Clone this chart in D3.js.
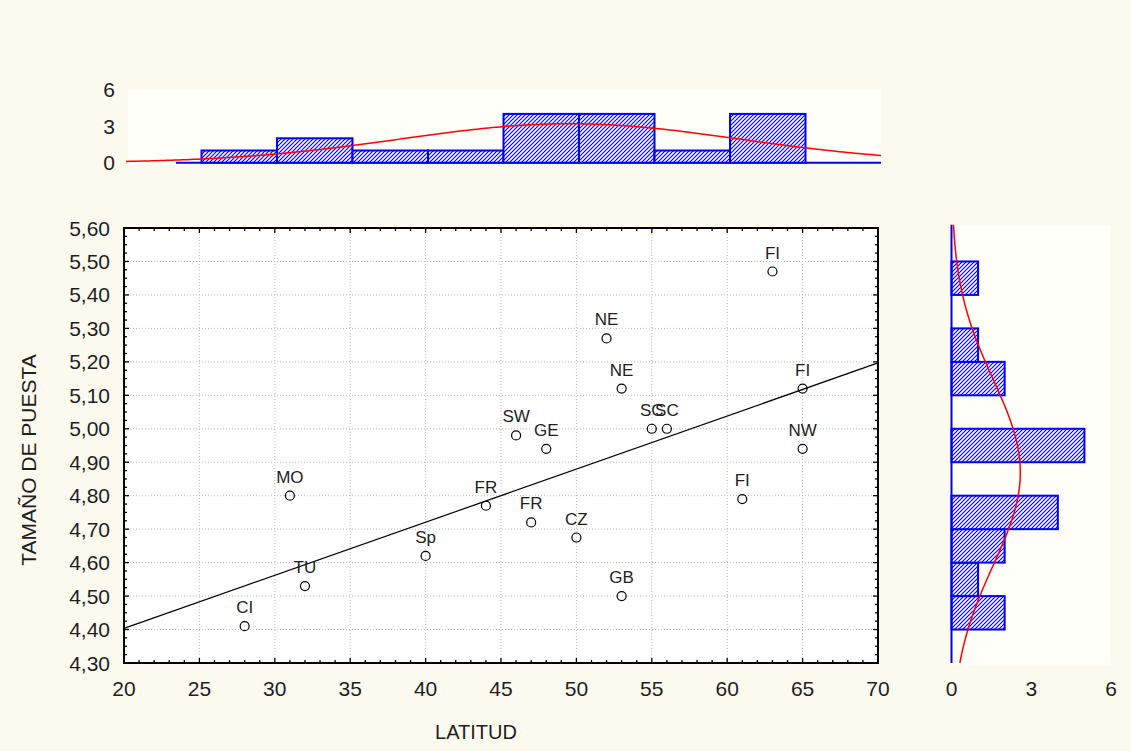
<!DOCTYPE html>
<html>
<head>
<meta charset="utf-8">
<script src="https://cdn.jsdelivr.net/npm/d3@7"></script>
<style>
  html, body { margin: 0; padding: 0; background: #fcfaef; }
  svg { display: block; }
  text { font-family: "Liberation Sans", Arial, sans-serif; fill: #1e1e1e; }
</style>
</head>
<body>
<script>
// Populations: latitude vs. clutch size
const labels = ["CI", "MO", "TU", "Sp", "FR", "FR", "CZ", "GB", "SW", "GE",
                "NE", "NE", "SC", "SC", "FI", "FI", "NW", "FI"];
const latitude = [28, 31, 32, 40, 44, 47, 50, 53, 46, 48,
                  52, 53, 55, 56, 63, 65, 65, 61];
const clutchSize = [4.41, 4.80, 4.53, 4.62, 4.77, 4.72, 4.675, 4.50, 4.98, 4.94,
                    5.27, 5.12, 5.00, 5.00, 5.47, 5.12, 4.94, 4.79];

const xTicks = [20, 25, 30, 35, 40, 45, 50, 55, 60, 65, 70];
const yTicks = [4.3, 4.4, 4.5, 4.6, 4.7, 4.8, 4.9, 5.0, 5.1, 5.2, 5.3, 5.4, 5.5, 5.6];
const countTicks = [0, 3, 6];
const xBinEdges = [20, 25, 30, 35, 40, 45, 50, 55, 60, 65, 70];
const yBinEdges = [4.3, 4.4, 4.5, 4.6, 4.7, 4.8, 4.9, 5.0, 5.1, 5.2, 5.3, 5.4, 5.5, 5.6];

const W = 1131, H = 751;
const svg = d3.select("body").append("svg").attr("width", W).attr("height", H);

const defs = svg.append("defs");
const pat = defs.append("pattern").attr("id", "hatch")
  .attr("patternUnits", "userSpaceOnUse").attr("width", 4).attr("height", 4);
pat.append("rect").attr("width", 4).attr("height", 4).attr("fill", "#ffffff");
pat.append("path").attr("d", "M-1,1 l2,-2 M0,4 l4,-4 M3,5 l2,-2")
  .attr("stroke", "#0000ff").attr("stroke-width", 1.15);

svg.append("rect").attr("width", W).attr("height", H).attr("fill", "#fcfaef");

// Scales
const x = d3.scaleLinear().domain([20, 70]).range([124, 878]);
const y = d3.scaleLinear().domain([4.3, 5.6]).range([663, 228]);
const hx = d3.scaleLinear().domain([20, 70]).range([126, 881]);
const hy = d3.scaleLinear().domain([0, 6]).range([162.7, 89.5]);
const rx = d3.scaleLinear().domain([0, 6]).range([951.5, 1111]);
const ry = d3.scaleLinear().domain([4.3, 5.61]).range([663, 224.7]);

// Helpers
const mean = arr => d3.mean(arr);
const sd = arr => d3.deviation(arr);
function counts(values, edges) {
  // bins closed on the upper edge
  const c = new Array(edges.length - 1).fill(0);
  values.forEach(v => {
    for (let i = 0; i < edges.length - 1; i++) {
      if (v > edges[i] + 1e-9 && v <= edges[i + 1] + 1e-9) { c[i]++; break; }
    }
  });
  return c.map((n, i) => ({ x0: edges[i], x1: edges[i + 1], n }));
}
const n = latitude.length;

// ---------- Top histogram (latitude) ----------
svg.append("rect").attr("x", 128).attr("y", 90).attr("width", 753).attr("height", 75)
  .attr("fill", "#fffef9");

const topG = svg.append("g");
topG.append("line")
  .attr("x1", hx(23.3)).attr("x2", hx(70))
  .attr("y1", hy(0)).attr("y2", hy(0))
  .attr("stroke", "#0000ff").attr("stroke-width", 2);

topG.selectAll("rect.bar")
  .data(counts(latitude, xBinEdges).filter(d => d.n > 0))
  .join("rect").attr("class", "bar")
  .attr("x", d => hx(d.x0)).attr("width", d => hx(d.x1) - hx(d.x0))
  .attr("y", d => hy(d.n)).attr("height", d => hy(0) - hy(d.n))
  .attr("fill", "url(#hatch)").attr("stroke", "#0000ff").attr("stroke-width", 2);

const mx = mean(latitude), sx = sd(latitude);
const xCurve = d3.range(20, 70.01, 0.25).map(v =>
  [v, n * 5 / (sx * Math.sqrt(2 * Math.PI)) * Math.exp(-0.5 * ((v - mx) / sx) ** 2)]);
topG.append("path")
  .attr("d", d3.line().x(d => hx(d[0])).y(d => hy(d[1]))(xCurve))
  .attr("fill", "none").attr("stroke", "#ff0000").attr("stroke-width", 1.5);

topG.selectAll("text.tick")
  .data(countTicks).join("text").attr("class", "tick")
  .attr("x", 115).attr("y", d => hy(d))
  .attr("text-anchor", "end").attr("dominant-baseline", "central")
  .style("font-size", "21px").text(d => d);

// ---------- Right histogram (clutch size) ----------
svg.append("rect").attr("x", 952).attr("y", 225).attr("width", 158).attr("height", 440)
  .attr("fill", "#fffef9");

const rightG = svg.append("g");
rightG.selectAll("rect.bar")
  .data(counts(clutchSize, yBinEdges).filter(d => d.n > 0))
  .join("rect").attr("class", "bar")
  .attr("x", rx(0)).attr("width", d => rx(d.n) - rx(0))
  .attr("y", d => y(d.x1)).attr("height", d => y(d.x0) - y(d.x1))
  .attr("fill", "url(#hatch)").attr("stroke", "#0000ff").attr("stroke-width", 2);

rightG.append("line")
  .attr("x1", rx(0)).attr("x2", rx(0))
  .attr("y1", ry(5.61)).attr("y2", ry(4.3))
  .attr("stroke", "#0000ff").attr("stroke-width", 2);

const my = mean(clutchSize), sy = sd(clutchSize);
const yCurve = d3.range(4.3, 5.6101, 0.005).map(v =>
  [v, n * 0.1 / (sy * Math.sqrt(2 * Math.PI)) * Math.exp(-0.5 * ((v - my) / sy) ** 2)]);
rightG.append("path")
  .attr("d", d3.line().x(d => rx(d[1])).y(d => ry(d[0]))(yCurve))
  .attr("fill", "none").attr("stroke", "#ff0000").attr("stroke-width", 1.5);

rightG.selectAll("text.tick")
  .data(countTicks).join("text").attr("class", "tick")
  .attr("x", d => rx(d)).attr("y", 688)
  .attr("text-anchor", "middle").attr("dominant-baseline", "central")
  .style("font-size", "21px").text(d => d);

// ---------- Scatter plot ----------
const plot = svg.append("g");
plot.append("rect")
  .attr("x", x(20)).attr("y", y(5.6))
  .attr("width", x(70) - x(20)).attr("height", y(4.3) - y(5.6))
  .attr("fill", "#ffffff");

// dotted grid
plot.selectAll("line.gx").data(xTicks.slice(1, -1)).join("line").attr("class", "gx")
  .attr("x1", d => x(d)).attr("x2", d => x(d)).attr("y1", y(5.6)).attr("y2", y(4.3))
  .attr("stroke", "#bdbdbd").attr("stroke-dasharray", "1,2");
plot.selectAll("line.gy").data(yTicks.slice(1, -1)).join("line").attr("class", "gy")
  .attr("y1", d => y(d)).attr("y2", d => y(d)).attr("x1", x(20)).attr("x2", x(70))
  .attr("stroke", "#bdbdbd").attr("stroke-dasharray", "1,2");

// inward ticks on all four sides
const xMinor = d3.range(21, 70, 1);
const yMinor = d3.range(4.3, 5.6, 0.025).slice(1);
const tickG = plot.append("g").attr("stroke", "#000").attr("stroke-width", 1.3);
xMinor.forEach(v => {
  const len = v % 5 === 0 ? 5 : 3;
  tickG.append("line").attr("x1", x(v)).attr("x2", x(v)).attr("y1", y(4.3)).attr("y2", y(4.3) - len);
  tickG.append("line").attr("x1", x(v)).attr("x2", x(v)).attr("y1", y(5.6)).attr("y2", y(5.6) + len);
});
yMinor.forEach((v, i) => {
  const len = (i + 1) % 4 === 0 ? 5 : 3;
  tickG.append("line").attr("y1", y(v)).attr("y2", y(v)).attr("x1", x(20)).attr("x2", x(20) + len);
  tickG.append("line").attr("y1", y(v)).attr("y2", y(v)).attr("x1", x(70)).attr("x2", x(70) - len);
});

// regression line (least squares)
const slope = d3.sum(latitude, (v, i) => (v - mx) * (clutchSize[i] - my)) /
              d3.sum(latitude, v => (v - mx) ** 2);
const icpt = my - slope * mx;
plot.append("line")
  .attr("x1", x(20)).attr("y1", y(icpt + slope * 20))
  .attr("x2", x(70)).attr("y2", y(icpt + slope * 70))
  .attr("stroke", "#000").attr("stroke-width", 1.2);

// frame
plot.append("rect")
  .attr("x", x(20)).attr("y", y(5.6))
  .attr("width", x(70) - x(20)).attr("height", y(4.3) - y(5.6))
  .attr("fill", "none").attr("stroke", "#000").attr("stroke-width", 2);

// points + labels
const pts = latitude.map((v, i) => ({ x: v, y: clutchSize[i], label: labels[i] }));
plot.selectAll("circle.pt").data(pts).join("circle").attr("class", "pt")
  .attr("cx", d => x(d.x)).attr("cy", d => y(d.y)).attr("r", 4.5)
  .attr("fill", "none").attr("stroke", "#000").attr("stroke-width", 1.2);
plot.selectAll("text.lbl").data(pts).join("text").attr("class", "lbl")
  .attr("x", d => x(d.x)).attr("y", d => y(d.y) - 13)
  .attr("text-anchor", "middle").style("font-size", "17px").text(d => d.label);

// axis labels
const fmt = d3.format(".2f");
svg.selectAll("text.yt").data(yTicks).join("text").attr("class", "yt")
  .attr("x", 110).attr("y", d => y(d)).attr("text-anchor", "end")
  .attr("dominant-baseline", "central").style("font-size", "21px")
  .text(d => fmt(d).replace(".", ","));
svg.selectAll("text.xt").data(xTicks).join("text").attr("class", "xt")
  .attr("x", d => x(d)).attr("y", 688).attr("text-anchor", "middle")
  .attr("dominant-baseline", "central").style("font-size", "21px").text(d => d);

svg.append("text").attr("x", 476).attr("y", 732)
  .attr("text-anchor", "middle").attr("dominant-baseline", "central")
  .style("font-size", "20px").text("LATITUD");
svg.append("text").attr("transform", "translate(28,460) rotate(-90)")
  .attr("text-anchor", "middle").attr("dominant-baseline", "central")
  .style("font-size", "21px").text("TAMAÑO DE PUESTA");
</script>
</body>
</html>
